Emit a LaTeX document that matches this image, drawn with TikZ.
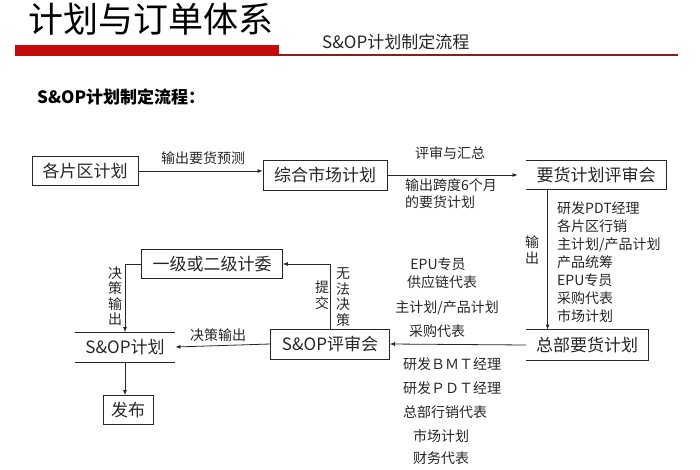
\documentclass[tikz,border=0pt]{standalone}
\usepackage{fontspec}
\setmainfont{Noto Sans CJK SC}
\usetikzlibrary{arrows.meta}
\definecolor{barred}{HTML}{C40A0A}
\definecolor{linered}{HTML}{8E1C1C}
\definecolor{ink}{HTML}{262626}
\tikzset{
  box/.style={draw=ink, line width=0.8pt, text=ink, inner sep=0pt, minimum height=29pt, font=\fontsize{17}{17}\selectfont},
  openbox/.style={box, draw=none},
  lbl/.style={text=ink, inner sep=0pt, font=\fontsize{14}{14}\selectfont},
  vlbl/.style={lbl, align=center, font=\fontsize{14}{15.5}\selectfont},
  arr/.style={draw=ink, line width=0.8pt, -{Latex[length=5pt,width=4pt]}}
}
\begin{document}
\begin{tikzpicture}[x=1pt,y=-1pt]
  \useasboundingbox (0,0) rectangle (700,470);
  % heading
  \node[anchor=west, inner sep=0pt, text=black, font=\fontsize{35}{35}\selectfont] (title) at (28,19) {计划与订单体系};
  \fill[barred] (15,45) rectangle (279,56);
  \draw[linered, line width=1.6pt] (279,55) -- (678,55);
  \node[anchor=west, inner sep=0pt, text=ink, font=\fontsize{17}{17}\selectfont] (sub) at (322,42) {S\&OP计划制定流程};
  \node[anchor=west, inner sep=0pt, text=black, font=\fontsize{17}{17}\selectfont\bfseries] (head) at (37,97) {S\&OP计划制定流程：};

  % boxes
  \node[box, minimum width=106pt] (gq) at (85,171) {各片区计划};
  \node[box, minimum width=124pt, minimum height=30pt] (zh) at (325,175) {综合市场计划};
  \node[openbox, minimum width=140pt, minimum height=28pt] (yh) at (596,175) {要货计划评审会};
  \node[openbox, minimum width=121pt, minimum height=30pt] (zb) at (587,345) {总部要货计划};
  \node[box, minimum width=119pt, minimum height=30pt] (ps) at (330,344) {S\&OP评审会};
  \node[box, minimum width=141pt] (jw) at (212,264) {一级或二级计委};
  \node[openbox, minimum width=100pt] (sp) at (125,347) {S\&OP计划};
  \node[box, minimum width=50pt] (fb) at (128,410) {发布};
  \draw[ink, line width=0.8pt] (yh.north west) -- (yh.north east) -- (yh.south east) -- (yh.south west);
  \draw[ink, line width=0.8pt] (zb.north west) -- (zb.north east) -- (zb.south east) -- (zb.south west);
  \draw[ink, line width=0.8pt] (sp.north west) -- (sp.north east);
  \draw[ink, line width=0.8pt] (sp.south west) -- (sp.south east);

  % connectors
  \draw[arr] (gq.east) -- (gq.east -| zh.west);
  \draw[arr, shorten >=8pt] (zh.east) -- (yh.west);
  \draw[arr] ([xshift=22pt]yh.south west) -- ([xshift=22pt]yh.south west |- zb.north);
  \draw[arr] (zb.west) -- (ps.east);
  \draw[arr] (ps.west) -- (sp.east);
  \draw[arr] (ps.north) |- (jw.east);
  \draw[arr] (jw.west) -| (sp.north);
  \draw[arr] (sp.south) -- (sp.south |- fb.north);

  % labels on the top row
  \node[lbl] (l1) at (203,158) {输出要货预测};
  \node[lbl] (l2) at (450,153) {评审与汇总};
  \node[lbl, anchor=north west, align=left, font=\fontsize{14}{17}\selectfont] (l3) at (405,178) {输出跨度6个月\\的要货计划};

  % members of the review
  \node[vlbl] (l4) at (532,250) {输\\出};
  \node[lbl, anchor=north west, align=left, font=\fontsize{14}{18.1}\selectfont] (l5) at (557,201)
    {研发PDT经理\\各片区行销\\主计划/产品计划\\产品统筹\\EPU专员\\采购代表\\市场计划};

  % members of the S&OP review
  \node[lbl] (m1) at (438,264) {EPU专员};
  \node[lbl] (m2) at (442,282) {供应链代表};
  \node[lbl] (m3) at (447,308) {主计划/产品计划};
  \node[lbl] (m4) at (437,331) {采购代表};
  \node[lbl, anchor=west] (m5) at (403,364) {研发ＢＭＴ经理};
  \node[lbl, anchor=west] (m6) at (403,388) {研发ＰＤＴ经理};
  \node[lbl, anchor=west] (m7) at (403,412) {总部行销代表};
  \node[lbl, anchor=west] (m8) at (413,436) {市场计划};
  \node[lbl, anchor=west] (m9) at (413,458) {财务代表};

  % labels on the lower loop
  \node[lbl] (d1) at (218,335) {决策输出};
  \node[vlbl] (d2) at (322,295) {提\\交};
  \node[vlbl] (d3) at (343,297) {无\\法\\决\\策};
  \node[vlbl] (d4) at (115,296) {决\\策\\输\\出};
\end{tikzpicture}
\end{document}
